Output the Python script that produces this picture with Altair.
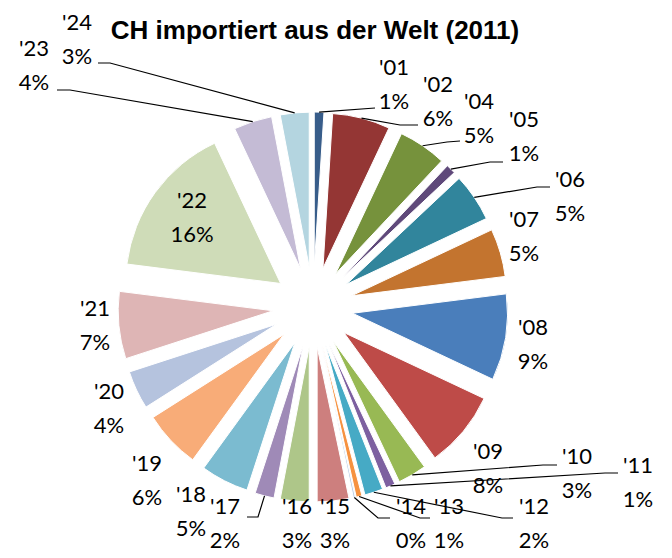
import math
import altair as alt
import pandas as pd

# ---------------- data ----------------
categories = ["'01", "'02", "'04", "'05", "'06", "'07", "'08", "'09", "'10", "'11",
              "'12", "'13", "'14", "'15", "'16", "'17", "'18", "'19", "'20", "'21",
              "'22", "'23", "'24"]
values = [1, 6, 5, 1, 5, 5, 9, 8, 3, 1,
          1.9, 0.6, 0.2, 3.3, 3, 2, 5, 6, 4, 7,
          16, 4, 3]
colors = ["#385D8A", "#943634", "#76923C", "#5F497A", "#31859C", "#C3742F",
          "#4A7EBB", "#BE4B48", "#98B954", "#7D60A0", "#46AAC5", "#F69240",
          "#B9CDE5", "#CD7F7E", "#AEC689", "#9F8AB7", "#7BBBD0", "#F8AC78",
          "#B5C3DE", "#DEB5B5", "#CFDCB8", "#C4BBD5", "#B4D5E0"]
title_text = "CH importiert aus der Welt (2011)"

# label block centres relative to pie centre (x right, y down), px
label_pos = {
    "'01": (81, -222), "'02": (125, -205), "'04": (166, -188), "'05": (211, -170),
    "'06": (257, -110), "'07": (211, -70), "'08": (220, 38), "'09": (175, 162),
    "'10": (264, 167), "'11": (325, 176), "'12": (221, 217), "'13": (136, 217),
    "'14": (98, 217), "'15": (22, 217), "'16": (-16, 217), "'17": (-88, 217),
    "'18": (-122, 205), "'19": (-166, 174), "'20": (-204, 102), "'21": (-218, 19),
    "'22": (-121, -89), "'23": (-279, -241), "'24": (-236, -267),
}
# leader lines: elbow and end points (x right, y down), px
leaders = {
    "'24": [(-203, -244), (-215, -244)],
    "'23": [(-243, -217), (-256, -217)],
    "'01": [(62, -199), (62, -199)],
    "'02": [(87, -182), (105, -182)],
    "'04": [(134, -165), (147, -166)],
    "'05": [(177, -145), (190, -145)],
    "'06": [(224, -120), (237, -120)],
    "'10": [(230, 158), (244, 158)],
    "'11": [(292, 166), (305, 166)],
    "'12": [(189, 211), (200, 211)],
    "'13": [(107, 211), (117, 211)],
    "'14": [(65, 211), (77, 211)],
    "'17": [(-55, 210), (-66, 210)],
}

# ---------------- layout ----------------
W, H = 656, 542
CX, CY = 305, 299
EXPLODE, R = 40, 155
FONT = "Lato"

xscale = alt.Scale(domain=[-CX, W - CX], nice=False, zero=False)
yscale = alt.Scale(domain=[-(H - CY), CY], nice=False, zero=False)

total = sum(values)
slice_df = pd.DataFrame({"cat": categories, "value": values, "idx": list(range(len(values)))})

slices = alt.Chart(slice_df).transform_window(
    cum="sum(value)", sort=[alt.SortField("idx")], frame=[None, 0]
).transform_joinaggregate(total="sum(value)").transform_calculate(
    p0="(datum.cum - datum.value) / datum.total * 100",
    p1="datum.cum / datum.total * 100",
    mid="(datum.cum - datum.value / 2) / datum.total * 2 * PI",
).transform_calculate(
    ex=f"{EXPLODE} * sin(datum.mid)",
    ey=f"{EXPLODE} * cos(datum.mid)",
).mark_arc(radius=R, stroke="white", strokeWidth=1).encode(
    x=alt.X("ex:Q", scale=xscale, axis=None),
    y=alt.Y("ey:Q", scale=yscale, axis=None),
    theta=alt.Theta("p0:Q", scale=alt.Scale(domain=[0, 100]), stack=None),
    theta2="p1:Q",
    color=alt.Color("cat:N", scale=alt.Scale(domain=categories, range=colors), legend=None),
)

# leader lines (start on slice outer edge, from the data)
rows = []
cum = 0.0
mids = {}
for c, v in zip(categories, values):
    mids[c] = (cum + v / 2) / total * 2 * math.pi
    cum += v
for c, pts in leaders.items():
    m = mids[c]
    rows.append({"cat": c, "o": 0, "lx": (EXPLODE + R) * math.sin(m), "ly": (EXPLODE + R) * math.cos(m)})
    for k, (px, py) in enumerate(pts):
        rows.append({"cat": c, "o": k + 1, "lx": px, "ly": -py})
lead_df = pd.DataFrame(rows)
lines = alt.Chart(lead_df).mark_line(color="black", strokeWidth=1.2).encode(
    x=alt.X("lx:Q", scale=xscale, axis=None),
    y=alt.Y("ly:Q", scale=yscale, axis=None),
    detail="cat:N",
    order="o:Q",
)

lab_df = pd.DataFrame({
    "cat": categories,
    "pct": [f"{round(v / total * 100)}%" for v in values],
    "tx": [label_pos[c][0] for c in categories],
    "ty": [-label_pos[c][1] for c in categories],
})
t_name = alt.Chart(lab_df).mark_text(font=FONT, fontSize=22, dy=-17, align="center",
                                     baseline="middle", color="black").encode(
    x=alt.X("tx:Q", scale=xscale, axis=None),
    y=alt.Y("ty:Q", scale=yscale, axis=None),
    text="cat:N",
)
t_pct = alt.Chart(lab_df).mark_text(font=FONT, fontSize=22, dy=17, align="center",
                                    baseline="middle", color="black").encode(
    x=alt.X("tx:Q", scale=xscale, axis=None),
    y=alt.Y("ty:Q", scale=yscale, axis=None),
    text="pct:N",
)

title = alt.Chart(pd.DataFrame({"t": [title_text]})).mark_text(
    font="Liberation Sans", fontSize=26, fontWeight="bold", align="center",
    baseline="alphabetic", color="black"
).encode(x=alt.value(307), y=alt.value(31), text="t:N")

chart = alt.layer(slices, lines, t_name, t_pct, title).properties(
    width=W, height=H,
    autosize=alt.AutoSizeParams(type="none"),
    padding=0,
).configure_view(stroke=None)

chart.save("out.html", embed_options={"renderer": "svg", "actions": False})
